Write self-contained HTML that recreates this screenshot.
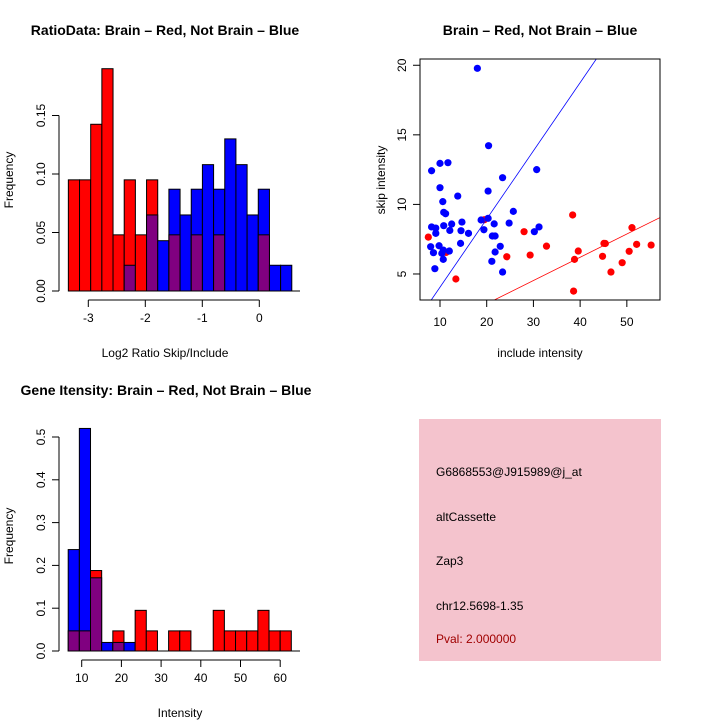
<!DOCTYPE html>
<html><head><meta charset="utf-8"><style>
body{margin:0;background:#fff}
svg{display:block;font-family:"Liberation Sans",sans-serif}
</style></head><body>
<svg id="s" width="720" height="720">
<rect width="720" height="720" fill="#fff"/>
<text x="165" y="35" font-size="14" font-weight="bold" text-anchor="middle">RatioData: Brain – Red, Not Brain – Blue</text>
<text x="540" y="35" font-size="14" font-weight="bold" text-anchor="middle">Brain – Red, Not Brain – Blue</text>
<text x="166" y="395" font-size="14" font-weight="bold" text-anchor="middle">Gene Itensity: Brain – Red, Not Brain – Blue</text>
<text x="165" y="357" font-size="12" text-anchor="middle">Log2 Ratio Skip/Include</text>
<text x="13" y="180" font-size="12" text-anchor="middle" transform="rotate(-90 13 180)">Frequency</text>
<text x="540" y="357" font-size="12" text-anchor="middle">include intensity</text>
<text x="385" y="180" font-size="12" text-anchor="middle" transform="rotate(-90 385 180)">skip intensity</text>
<text x="180" y="717" font-size="12" text-anchor="middle">Intensity</text>
<text x="13" y="536" font-size="12" text-anchor="middle" transform="rotate(-90 13 536)">Frequency</text>
<g>
<rect x="419" y="419" width="242" height="242" fill="#f4c3cd"/>
<text x="436" y="476" font-size="12">G6868553@J915989@j_at</text>
<text x="436" y="521" font-size="12">altCassette</text>
<text x="436" y="565" font-size="12">Zap3</text>
<text x="436" y="610" font-size="12">chr12.5698-1.35</text>
<text x="436" y="643" font-size="12" fill="#a00000">Pval: 2.000000</text>
</g>
</svg>
<script>
// Ratio histogram
const ratioBinStart = -3.35, ratioBinWidth = 0.196;
const ratioRed  = [0.095,0.095,0.1425,0.19,0.048,0.095,0.048,0.095,0,0.048,0,0.048,0,0.048,0,0,0,0.048,0,0];
const ratioBlue = [0,0,0,0,0,0.022,0,0.065,0.043,0.087,0.065,0.087,0.108,0.087,0.130,0.108,0.065,0.087,0.022,0.022];
const ratioYTicks = [0,0.05,0.10,0.15];
const ratioYLabels = ["0.00","0.05","0.10","0.15"];
const ratioXTicks = [-3,-2,-1,0];
// Intensity histogram
const intBinStart = 6.6, intBinWidth = 2.81;
const intRed  = [0.047,0.047,0.188,0,0.047,0,0.095,0.047,0,0.047,0.047,0,0,0.095,0.047,0.047,0.047,0.095,0.047,0.047];
const intBlue = [0.237,0.52,0.171,0.02,0.02,0.02,0,0,0,0,0,0,0,0,0,0,0,0,0,0];
const intYTicks = [0,0.1,0.2,0.3,0.4,0.5];
const intYLabels = ["0.0","0.1","0.2","0.3","0.4","0.5"];
const intXTicks = [10,20,30,40,50,60];
// Scatter
const blueX = [18.0,8.2,10.0,11.7,20.4,30.7,23.4,10.0,13.8,20.3,10.6,10.8,11.2,25.7,18.8,20.3,21.6,24.8,14.7,12.5,10.8,8.2,9.1,12.1,14.5,16.1,19.4,9.1,30.2,31.2,21.2,21.8,14.4,8.0,9.8,22.9,10.7,12.0,8.6,10.4,21.8,10.7,21.1,8.9,23.4];
const blueY = [19.78,12.42,12.95,13.0,14.22,12.5,11.92,11.2,10.6,10.96,10.2,9.43,9.33,9.5,8.88,9.0,8.6,8.66,8.73,8.59,8.47,8.38,8.3,8.13,8.11,7.92,8.18,7.92,8.04,8.38,7.73,7.73,7.2,6.96,7.03,6.99,6.72,6.65,6.53,6.48,6.58,6.05,5.91,5.38,5.14];
const redX = [7.5,19.5,13.4,24.3,28.0,29.3,32.8,38.4,39.6,38.8,38.6,44.8,45.1,45.4,46.6,49.0,50.5,51.1,52.1,55.2,11.3];
const redY = [7.65,8.9,4.64,6.24,8.04,6.36,7.0,9.24,6.65,6.05,3.77,6.27,7.2,7.19,5.14,5.81,6.63,8.33,7.13,7.08,6.55];
const blueLine = [-0.85,0.49];
const redLine = [-0.48,0.167];
const scatXTicks = [10,20,30,40,50];
const scatYTicks = [5,10,15,20];

const svg = document.getElementById('s');
const NS = 'http://www.w3.org/2000/svg';
function mk(tag, attrs, parent){const e=document.createElementNS(NS,tag);for(const k in attrs)e.setAttribute(k,attrs[k]);(parent||svg).appendChild(e);return e;}

function histogram(prefix, binStart, binW, red, blue, sx, sy, yTicks, yLabels, xTicks, xAxisY, yAxisX){
  const g = mk('g',{});
  
  
  for(let i=0;i<red.length;i++){
    const x0=sx(binStart+i*binW), x1=sx(binStart+(i+1)*binW);
    const hi=Math.max(red[i],blue[i]), lo=Math.min(red[i],blue[i]);
    if(hi>0){
      const r=mk('rect',{x:x0,y:sy(hi),width:x1-x0,height:sy(0)-sy(hi),fill:red[i]>=blue[i]?'#ff0000':'#0000ff',stroke:'#000','stroke-width':1},g);
      
      
    }
    if(lo>0){
      const p=mk('rect',{x:x0,y:sy(lo),width:x1-x0,height:sy(0)-sy(lo),fill:'#800080',stroke:'#000','stroke-width':1},g);
      
      
    }
  }
  const xa=mk('g',{});
  
  
  mk('line',{x1:sx(xTicks[0]),x2:sx(xTicks[xTicks.length-1]),y1:xAxisY,y2:xAxisY,stroke:'#000'},xa);
  xTicks.forEach(t=>{mk('line',{x1:sx(t),x2:sx(t),y1:xAxisY,y2:xAxisY+7,stroke:'#000'},xa);
    const tx=mk('text',{x:sx(t),y:xAxisY+22,'font-size':12,'text-anchor':'middle'},xa);tx.textContent=t;});
  const ya=mk('g',{});
  
  
  mk('line',{x1:yAxisX,x2:yAxisX,y1:sy(yTicks[0]),y2:sy(yTicks[yTicks.length-1]),stroke:'#000'},ya);
  yTicks.forEach((t,i)=>{mk('line',{x1:yAxisX-7,x2:yAxisX,y1:sy(t),y2:sy(t),stroke:'#000'},ya);
    const tx=mk('text',{x:yAxisX-14,y:sy(t),'font-size':12,'text-anchor':'middle',transform:`rotate(-90 ${yAxisX-14} ${sy(t)})`},ya);tx.textContent=yLabels[i];});
  // baseline
  mk('line',{x1:sx(binStart),x2:300,y1:sy(0),y2:sy(0),stroke:'#000'},g);
}
histogram('ratio',ratioBinStart,ratioBinWidth,ratioRed,ratioBlue,
  v=>88.3+(v+3)*57, v=>291-v/0.05*58.5, ratioYTicks, ratioYLabels, ratioXTicks, 300, 59);
histogram('intensity',intBinStart,intBinWidth,intRed,intBlue,
  v=>81.7+(v-10)*3.97, v=>651-v/0.1*42.8, intYTicks, intYLabels, intXTicks, 660, 59);

// Scatter plot
const xmin=5.72,xmax=57.1,ymin=3.13,ymax=20.45;
const px=v=>420+(v-xmin)/(xmax-xmin)*240;
const py=v=>300-(v-ymin)/(ymax-ymin)*241;
const sg=mk('g',{});


const cp=mk('clipPath',{id:'cl'},sg);mk('rect',{x:420,y:59,width:240,height:241},cp);
for(let i=0;i<redX.length;i++){const c=mk('circle',{cx:px(redX[i]),cy:py(redY[i]),r:3.6,fill:'#ff0000'},sg);
  
  }
for(let i=0;i<blueX.length;i++){const c=mk('circle',{cx:px(blueX[i]),cy:py(blueY[i]),r:3.6,fill:'#0000ff'},sg);
  
  }
const bl=mk('line',{x1:px(xmin),y1:py(blueLine[0]+blueLine[1]*xmin),x2:px(xmax),y2:py(blueLine[0]+blueLine[1]*xmax),stroke:'#0000ff','stroke-width':0.8,'clip-path':'url(#cl)'},sg);


const rl=mk('line',{x1:px(xmin),y1:py(redLine[0]+redLine[1]*xmin),x2:px(xmax),y2:py(redLine[0]+redLine[1]*xmax),stroke:'#ff0000','stroke-width':0.8,'clip-path':'url(#cl)'},sg);


const fr=mk('rect',{x:420,y:59,width:240,height:241,fill:'none',stroke:'#000'},sg);


scatXTicks.forEach(t=>{mk('line',{x1:px(t),x2:px(t),y1:300,y2:307,stroke:'#000'},sg);
  const tx=mk('text',{x:px(t),y:326,'font-size':12,'text-anchor':'middle'},sg);tx.textContent=t;
  
  });
scatYTicks.forEach(t=>{mk('line',{x1:413,x2:420,y1:py(t),y2:py(t),stroke:'#000'},sg);
  const tx=mk('text',{x:406,y:py(t),'font-size':12,'text-anchor':'middle',transform:`rotate(-90 406 ${py(t)})`},sg);tx.textContent=t;
  
  });
</script>
</body></html>
